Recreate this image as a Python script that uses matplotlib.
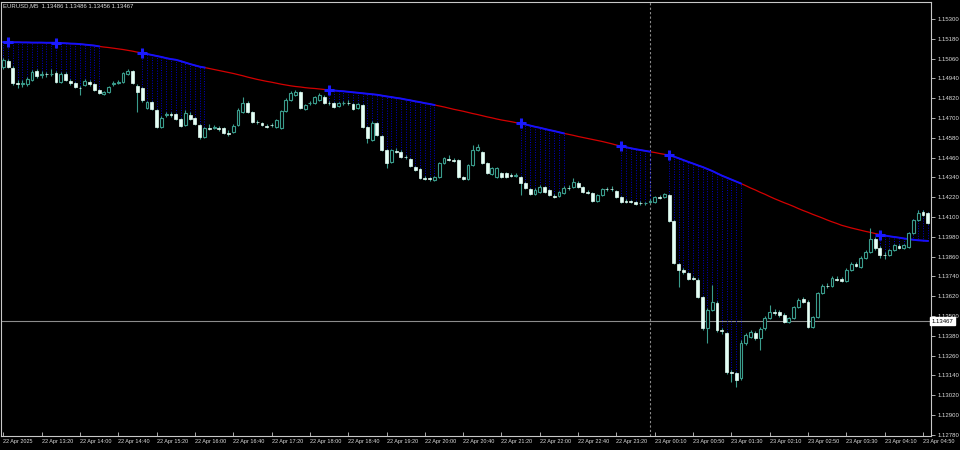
import numpy as np
import matplotlib
matplotlib.use("Agg")
import matplotlib.pyplot as plt

plt.rcParams['font.family'] = ['Liberation Sans', 'DejaVu Sans']

# EURUSD M5 bars (oldest first)
opens = [
    1.15009, 1.15045, 1.15003, 1.14912, 1.14906, 1.14906, 1.14930, 1.14985, 1.14960, 1.14967,
    1.14964, 1.14973, 1.14918, 1.14967, 1.14924, 1.14912, 1.14882, 1.14900, 1.14918, 1.14906,
    1.14870, 1.14845, 1.14858, 1.14906, 1.14915, 1.14918, 1.14967, 1.14985, 1.14894, 1.14882,
    1.14760, 1.14797, 1.14748, 1.14645, 1.14718, 1.14724, 1.14724, 1.14694, 1.14657, 1.14718,
    1.14700, 1.14657, 1.14585, 1.14639, 1.14642, 1.14639, 1.14639, 1.14609, 1.14615, 1.14657,
    1.14736, 1.14791, 1.14736, 1.14676, 1.14670, 1.14651, 1.14657, 1.14645, 1.14639, 1.14742,
    1.14809, 1.14839, 1.14858, 1.14754, 1.14788, 1.14791, 1.14809, 1.14827, 1.14791, 1.14791,
    1.14773, 1.14788, 1.14791, 1.14785, 1.14760, 1.14779, 1.14645, 1.14567, 1.14670, 1.14591,
    1.14506, 1.14433, 1.14500, 1.14494, 1.14464, 1.14451, 1.14403, 1.14391, 1.14336, 1.14336,
    1.14324, 1.14342, 1.14427, 1.14451, 1.14445, 1.14445, 1.14342, 1.14330, 1.14415, 1.14506,
    1.14494, 1.14427, 1.14361, 1.14342, 1.14367, 1.14367, 1.14354, 1.14351, 1.14342, 1.14306,
    1.14270, 1.14239, 1.14251, 1.14282, 1.14264, 1.14227, 1.14227, 1.14245, 1.14276, 1.14282,
    1.14306, 1.14282, 1.14251, 1.14245, 1.14197, 1.14233, 1.14270, 1.14270, 1.14258, 1.14221,
    1.14197, 1.14197, 1.14191, 1.14185, 1.14182, 1.14194, 1.14191, 1.14221, 1.14221, 1.14233,
    1.14076, 1.13815, 1.13779, 1.13761, 1.13730, 1.13718, 1.13615, 1.13427, 1.13536, 1.13579,
    1.13415, 1.13397, 1.13161, 1.13155, 1.13124, 1.13336, 1.13373, 1.13397, 1.13367, 1.13427,
    1.13488, 1.13524, 1.13524, 1.13506, 1.13464, 1.13488, 1.13555, 1.13603, 1.13585, 1.13433,
    1.13494, 1.13639, 1.13682, 1.13682, 1.13724, 1.13724, 1.13712, 1.13779, 1.13815, 1.13797,
    1.13852, 1.13888, 1.13967, 1.13912, 1.13870, 1.13870, 1.13900, 1.13924, 1.13912, 1.13918,
    1.14003, 1.14082, 1.14130, 1.14124,
]
highs = [
    1.15063, 1.15057, 1.15015, 1.14930, 1.14930, 1.14948, 1.14991, 1.14997, 1.14985, 1.14979,
    1.14997, 1.14985, 1.14979, 1.14979, 1.14936, 1.14918, 1.14894, 1.14936, 1.14930, 1.14912,
    1.14876, 1.14864, 1.14894, 1.14924, 1.14930, 1.14979, 1.14997, 1.14991, 1.14906, 1.14888,
    1.14803, 1.14803, 1.14754, 1.14712, 1.14736, 1.14736, 1.14730, 1.14700, 1.14748, 1.14736,
    1.14706, 1.14664, 1.14645, 1.14664, 1.14657, 1.14651, 1.14645, 1.14627, 1.14664, 1.14760,
    1.14827, 1.14803, 1.14742, 1.14688, 1.14676, 1.14664, 1.14670, 1.14694, 1.14748, 1.14821,
    1.14864, 1.14870, 1.14864, 1.14785, 1.14803, 1.14833, 1.14851, 1.14839, 1.14803, 1.14797,
    1.14797, 1.14803, 1.14809, 1.14791, 1.14791, 1.14785, 1.14651, 1.14682, 1.14676, 1.14597,
    1.14512, 1.14512, 1.14518, 1.14506, 1.14476, 1.14457, 1.14409, 1.14397, 1.14348, 1.14342,
    1.14348, 1.14433, 1.14464, 1.14476, 1.14457, 1.14451, 1.14348, 1.14421, 1.14536, 1.14542,
    1.14500, 1.14433, 1.14403, 1.14403, 1.14373, 1.14373, 1.14367, 1.14367, 1.14348, 1.14312,
    1.14276, 1.14276, 1.14294, 1.14288, 1.14270, 1.14239, 1.14257, 1.14288, 1.14294, 1.14336,
    1.14318, 1.14288, 1.14264, 1.14251, 1.14239, 1.14276, 1.14282, 1.14288, 1.14264, 1.14227,
    1.14209, 1.14203, 1.14197, 1.14197, 1.14191, 1.14209, 1.14227, 1.14233, 1.14245, 1.14239,
    1.14082, 1.13821, 1.13791, 1.13767, 1.13742, 1.13730, 1.13621, 1.13548, 1.13688, 1.13591,
    1.13427, 1.13403, 1.13173, 1.13161, 1.13355, 1.13397, 1.13415, 1.13409, 1.13433, 1.13500,
    1.13567, 1.13542, 1.13536, 1.13518, 1.13494, 1.13561, 1.13609, 1.13615, 1.13597, 1.13500,
    1.13645, 1.13694, 1.13700, 1.13742, 1.13742, 1.13736, 1.13791, 1.13827, 1.13827, 1.13864,
    1.13900, 1.14033, 1.13979, 1.13924, 1.13888, 1.13906, 1.13936, 1.13936, 1.13936, 1.14009,
    1.14088, 1.14142, 1.14142, 1.14130,
]
lows = [
    1.14997, 1.15003, 1.14900, 1.14882, 1.14888, 1.14894, 1.14924, 1.14942, 1.14942, 1.14948,
    1.14954, 1.14912, 1.14912, 1.14924, 1.14900, 1.14882, 1.14839, 1.14894, 1.14894, 1.14864,
    1.14845, 1.14839, 1.14851, 1.14894, 1.14906, 1.14912, 1.14960, 1.14906, 1.14736, 1.14797,
    1.14754, 1.14748, 1.14639, 1.14639, 1.14706, 1.14706, 1.14688, 1.14645, 1.14651, 1.14688,
    1.14657, 1.14573, 1.14579, 1.14627, 1.14633, 1.14621, 1.14603, 1.14591, 1.14609, 1.14651,
    1.14730, 1.14730, 1.14670, 1.14664, 1.14651, 1.14639, 1.14645, 1.14639, 1.14633, 1.14736,
    1.14803, 1.14833, 1.14754, 1.14748, 1.14779, 1.14785, 1.14803, 1.14785, 1.14779, 1.14760,
    1.14767, 1.14779, 1.14779, 1.14748, 1.14754, 1.14639, 1.14548, 1.14560, 1.14591, 1.14500,
    1.14397, 1.14427, 1.14488, 1.14457, 1.14451, 1.14403, 1.14379, 1.14330, 1.14324, 1.14318,
    1.14318, 1.14336, 1.14421, 1.14439, 1.14433, 1.14336, 1.14324, 1.14324, 1.14409, 1.14500,
    1.14421, 1.14361, 1.14354, 1.14336, 1.14336, 1.14336, 1.14342, 1.14342, 1.14233, 1.14270,
    1.14233, 1.14233, 1.14245, 1.14245, 1.14227, 1.14215, 1.14221, 1.14239, 1.14264, 1.14276,
    1.14276, 1.14245, 1.14239, 1.14191, 1.14191, 1.14227, 1.14258, 1.14258, 1.14215, 1.14185,
    1.14185, 1.14185, 1.14173, 1.14173, 1.14173, 1.14185, 1.14185, 1.14209, 1.14215, 1.14070,
    1.13815, 1.13676, 1.13755, 1.13718, 1.13718, 1.13609, 1.13415, 1.13336, 1.13530, 1.13403,
    1.13391, 1.13149, 1.13100, 1.13070, 1.13112, 1.13324, 1.13367, 1.13355, 1.13294, 1.13415,
    1.13482, 1.13506, 1.13494, 1.13458, 1.13458, 1.13482, 1.13548, 1.13579, 1.13427, 1.13427,
    1.13488, 1.13633, 1.13670, 1.13676, 1.13712, 1.13706, 1.13706, 1.13773, 1.13797, 1.13791,
    1.13845, 1.13882, 1.13900, 1.13852, 1.13845, 1.13864, 1.13894, 1.13906, 1.13906, 1.13912,
    1.13997, 1.14076, 1.14106, 1.14058,
]
closes = [
    1.15051, 1.15009, 1.14912, 1.14906, 1.14912, 1.14936, 1.14979, 1.14954, 1.14967, 1.14964,
    1.14967, 1.14918, 1.14967, 1.14930, 1.14912, 1.14888, 1.14879, 1.14924, 1.14906, 1.14870,
    1.14851, 1.14858, 1.14888, 1.14912, 1.14921, 1.14973, 1.14985, 1.14912, 1.14858, 1.14809,
    1.14797, 1.14754, 1.14645, 1.14700, 1.14724, 1.14718, 1.14694, 1.14651, 1.14730, 1.14694,
    1.14664, 1.14585, 1.14639, 1.14636, 1.14645, 1.14636, 1.14609, 1.14606, 1.14651, 1.14748,
    1.14791, 1.14736, 1.14676, 1.14673, 1.14657, 1.14648, 1.14655, 1.14688, 1.14742, 1.14809,
    1.14851, 1.14858, 1.14760, 1.14779, 1.14791, 1.14827, 1.14839, 1.14791, 1.14788, 1.14767,
    1.14791, 1.14791, 1.14788, 1.14754, 1.14785, 1.14645, 1.14579, 1.14670, 1.14597, 1.14506,
    1.14427, 1.14506, 1.14497, 1.14464, 1.14461, 1.14409, 1.14385, 1.14336, 1.14333, 1.14333,
    1.14342, 1.14427, 1.14457, 1.14448, 1.14442, 1.14342, 1.14330, 1.14415, 1.14506, 1.14524,
    1.14427, 1.14367, 1.14397, 1.14397, 1.14342, 1.14342, 1.14351, 1.14354, 1.14306, 1.14276,
    1.14239, 1.14264, 1.14282, 1.14251, 1.14233, 1.14224, 1.14251, 1.14276, 1.14273, 1.14312,
    1.14282, 1.14251, 1.14248, 1.14197, 1.14233, 1.14270, 1.14267, 1.14267, 1.14221, 1.14191,
    1.14194, 1.14194, 1.14179, 1.14182, 1.14185, 1.14197, 1.14221, 1.14218, 1.14239, 1.14076,
    1.13821, 1.13779, 1.13767, 1.13724, 1.13727, 1.13615, 1.13427, 1.13536, 1.13585, 1.13415,
    1.13409, 1.13161, 1.13155, 1.13112, 1.13336, 1.13385, 1.13403, 1.13367, 1.13421, 1.13488,
    1.13524, 1.13521, 1.13506, 1.13464, 1.13488, 1.13555, 1.13597, 1.13585, 1.13433, 1.13494,
    1.13639, 1.13682, 1.13679, 1.13730, 1.13721, 1.13712, 1.13779, 1.13815, 1.13803, 1.13852,
    1.13888, 1.13967, 1.13912, 1.13870, 1.13867, 1.13900, 1.13930, 1.13912, 1.13930, 1.14003,
    1.14082, 1.14124, 1.14112, 1.14064,
]

# moving average indicator line
ma = [
    1.15160, 1.15160, 1.15159, 1.15159, 1.15158, 1.15158, 1.15157, 1.15157, 1.15157, 1.15156,
    1.15156, 1.15156, 1.15154, 1.15153, 1.15151, 1.15150, 1.15148, 1.15145, 1.15142, 1.15139,
    1.15134, 1.15130, 1.15127, 1.15123, 1.15119, 1.15115, 1.15110, 1.15105, 1.15099, 1.15094,
    1.15088, 1.15082, 1.15076, 1.15070, 1.15063, 1.15057, 1.15053, 1.15045, 1.15036, 1.15027,
    1.15019, 1.15011, 1.15006, 1.15000, 1.14994, 1.14988, 1.14982, 1.14976, 1.14970, 1.14963,
    1.14956, 1.14948, 1.14941, 1.14934, 1.14928, 1.14922, 1.14917, 1.14911, 1.14905, 1.14900,
    1.14895, 1.14891, 1.14888, 1.14884, 1.14881, 1.14879, 1.14876, 1.14873, 1.14870, 1.14867,
    1.14864, 1.14862, 1.14859, 1.14856, 1.14853, 1.14850, 1.14847, 1.14844, 1.14841, 1.14836,
    1.14831, 1.14827, 1.14822, 1.14818, 1.14812, 1.14807, 1.14801, 1.14796, 1.14790, 1.14785,
    1.14779, 1.14773, 1.14767, 1.14760, 1.14753, 1.14747, 1.14741, 1.14734, 1.14727, 1.14721,
    1.14714, 1.14707, 1.14701, 1.14694, 1.14688, 1.14683, 1.14678, 1.14672, 1.14667, 1.14661,
    1.14654, 1.14647, 1.14641, 1.14634, 1.14627, 1.14621, 1.14614, 1.14607, 1.14601, 1.14595,
    1.14588, 1.14582, 1.14576, 1.14570, 1.14564, 1.14558, 1.14551, 1.14544, 1.14536, 1.14529,
    1.14523, 1.14517, 1.14511, 1.14506, 1.14501, 1.14496, 1.14491, 1.14485, 1.14480, 1.14476,
    1.14466, 1.14456, 1.14445, 1.14434, 1.14424, 1.14413, 1.14403, 1.14391, 1.14379, 1.14365,
    1.14351, 1.14339, 1.14327, 1.14315, 1.14303, 1.14290, 1.14276, 1.14264, 1.14250, 1.14238,
    1.14224, 1.14211, 1.14199, 1.14187, 1.14176, 1.14164, 1.14151, 1.14139, 1.14128, 1.14116,
    1.14105, 1.14094, 1.14082, 1.14071, 1.14061, 1.14050, 1.14042, 1.14034, 1.14027, 1.14020,
    1.14013, 1.14007, 1.14000, 1.13994, 1.13988, 1.13983, 1.13979, 1.13975, 1.13970, 1.13966,
    1.13962, 1.13959, 1.13957, 1.13955,
]

# bar ranges where the line is blue, and bars that carry a "+" signal
blue_segments = [(0, 20), (29, 42), (68, 90), (108, 117), (129, 135), (139, 154), (183, 193)]
signal_bars = [1, 11, 29, 68, 108, 129, 139, 183]

current_price = 1.13467
day_separator_bar = 135

time_tick_bars = list(range(0, 193, 8))
time_labels = ["22 Apr 2025", "22 Apr 13:20", "22 Apr 14:00", "22 Apr 14:40", "22 Apr 15:20",
               "22 Apr 16:00", "22 Apr 16:40", "22 Apr 17:20", "22 Apr 18:00", "22 Apr 18:40",
               "22 Apr 19:20", "22 Apr 20:00", "22 Apr 20:40", "22 Apr 21:20", "22 Apr 22:00",
               "22 Apr 22:40", "22 Apr 23:20", "23 Apr 00:10", "23 Apr 00:50", "23 Apr 01:30",
               "23 Apr 02:10", "23 Apr 02:50", "23 Apr 03:30", "23 Apr 04:10", "23 Apr 04:50"]
price_ticks = [1.15300, 1.15180, 1.15060, 1.14940, 1.14820, 1.14700, 1.14580, 1.14460,
               1.14340, 1.14220, 1.14100, 1.13980, 1.13860, 1.13740, 1.13620, 1.13500,
               1.13380, 1.13260, 1.13140, 1.13020, 1.12900, 1.12780]

o = np.array(opens)
h = np.array(highs)
l = np.array(lows)
c = np.array(closes)
m = np.array(ma)
x = np.arange(len(c))

wick_col = '#3a9c8c'
bear_col = '#e4fff6'
axis_col = '#c8c8c8'
text_col = '#dcdcdc'

fig = plt.figure(figsize=(9.6, 4.5), dpi=100, facecolor='black')
ax = fig.add_axes([1 / 960, 1 - 436 / 450, 930 / 960, 434 / 450])
ax.set_facecolor('black')

# MA line: red overall, blue on signal stretches
ax.plot(x, m, color='#d40000', lw=0.9, zorder=2)
for s, e in blue_segments:
    ax.plot(x[s:e + 1], m[s:e + 1], color='#1010ff', lw=1.4, zorder=3)
    ax.vlines(x[s:e + 1], h[s:e + 1], m[s:e + 1], colors='#0000c8',
              linestyles=(0, (1.0, 1.6)), lw=0.7, zorder=1)
ax.plot(x[signal_bars], m[signal_bars], '+', color='#1a1aff', ms=7, mew=2.2, zorder=4)

# candles
up = c >= o
ax.vlines(x, l, h, color=wick_col, lw=0.8, zorder=5)
ax.bar(x[up], (c - o)[up], bottom=o[up], width=0.6, facecolor='black',
       edgecolor=wick_col, lw=0.8, zorder=6)
ax.bar(x[~up], (o - c)[~up], bottom=c[~up], width=0.6, facecolor=bear_col,
       edgecolor=bear_col, lw=0.5, zorder=6)

# current price line and day separator
ax.axhline(current_price, color='#8c8c8c', lw=0.8, zorder=0)
ax.axvline(day_separator_bar, color='#8c8c8c', lw=0.8, ls=(0, (2, 2)), zorder=0)

ax.set_xlim(-0.48, 193.67)
ax.set_ylim(1.12773, 1.15403)

for sp in ax.spines.values():
    sp.set_color(axis_col)
    sp.set_linewidth(0.8)

ax.yaxis.tick_right()
ax.set_yticks(price_ticks)
ax.set_yticklabels(['%.5f' % p for p in price_ticks])
ax.tick_params(axis='y', colors=axis_col, labelcolor=text_col, labelsize=4.3,
               length=3, width=0.6, direction='out', pad=2)

ax.set_xticks(time_tick_bars)
ax.set_xticklabels(time_labels, ha='left')
ax.tick_params(axis='x', colors=axis_col, labelcolor=text_col, labelsize=4.0,
               length=3, width=0.6, direction='in', pad=2.5)

# price tag for the current price
ax.text(1.001, current_price, '%.5f' % current_price, transform=ax.get_yaxis_transform(),
        ha='left', va='center', fontsize=4.3, color='black',
        bbox=dict(boxstyle='square,pad=0.25', fc='white', ec='white'), zorder=10, clip_on=False)

fig.text(3 / 960, 1 - 6 / 450, 'EURUSD,M5  1.13486 1.13486 1.13456 1.13467',
         color=text_col, fontsize=4.3, va='center', ha='left')

fig.savefig('out.png', dpi=100, facecolor='black')
